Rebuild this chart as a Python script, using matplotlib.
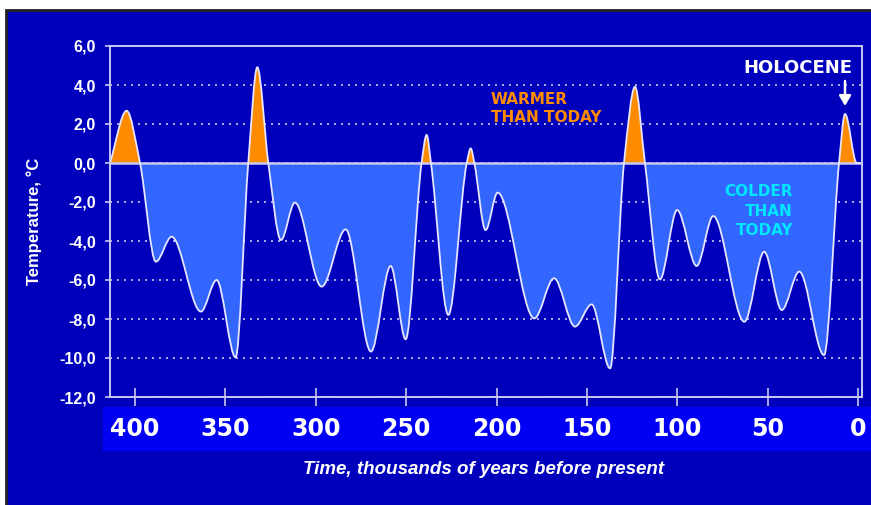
import numpy as np
import matplotlib
matplotlib.use("Agg")
import matplotlib.pyplot as plt
from matplotlib.path import Path
from matplotlib.patches import PathPatch, Rectangle

plt.rcParams['font.family'] = ['Liberation Sans', 'DejaVu Sans']

# ---- data ----
age_kyr = [413.9, 404.7, 397.3, 388.5, 379.8, 363.6, 354.9, 344.4, 337.4, 332.4,
           326.3, 319.3, 311.6, 296.8, 283.5, 269.5, 258.6, 250.3, 241.5, 238.7,
           236.3, 226.7, 216.5, 214.3, 212.3, 206.1, 199.4, 179.1, 168.2, 156.6,
           147.4, 137.2, 129.5, 123.4, 117.9, 109.6, 100.1, 89.3, 80.1, 62.9,
           51.9, 42.2, 32.5, 18.8, 10.5, 7.2, 0.7, -1.1]
temp_c = [0.0, 2.68, 0.0, -5.06, -3.78, -7.62, -6.0, -9.97, 0.0, 4.91,
          0.0, -3.95, -2.03, -6.34, -3.4, -9.67, -5.28, -9.04, 0.0, 1.44,
          0.0, -7.79, 0.0, 0.75, 0.0, -3.44, -1.52, -7.97, -5.91, -8.39,
          -7.25, -10.53, 0.0, 3.91, 0.0, -5.97, -2.41, -5.28, -2.72, -8.14,
          -4.55, -7.54, -5.57, -9.85, 0.0, 2.51, 0.0, 0.0]
xtick_values = [400, 350, 300, 250, 200, 150, 100, 50, 0]
xtick_labels = ['400', '350', '300', '250', '200', '150', '100', '50', '0']
ytick_values = [6, 4, 2, 0, -2, -4, -6, -8, -10, -12]
ytick_labels = ['6,0', '4,0', '2,0', '0,0', '-2,0', '-4,0', '-6,0', '-8,0', '-10,0', '-12,0']

# ---- colours ----
NAVY = '#0000BC'
BAND = '#0000F5'
FILL_BLUE = '#3366FF'
ORANGE = '#FF8C00'
FRAME = '#C8C8F0'
CURVE = '#E6E6FF'
CYAN = '#00E6FF'

W, H = 871, 505
fig = plt.figure(figsize=(W / 100, H / 100), dpi=100, facecolor='white')

def fx(px):
    return px / W

def fy(py):
    return (H - py) / H

# slide background with dark border
fig.patches.append(Rectangle((fx(6), fy(H + 20)), 1.2, fy(9.5) - fy(H + 20),
                             transform=fig.transFigure, facecolor=NAVY,
                             edgecolor='#222222', lw=2, zorder=-10))
# bright band behind x tick labels
fig.patches.append(Rectangle((fx(103), fy(451)), 1.0, fy(407) - fy(451),
                             transform=fig.transFigure, facecolor=BAND,
                             edgecolor='none', zorder=-9))

ax = fig.add_axes([fx(110), fy(397), fx(862) - fx(110), fy(46) - fy(397)])
ax.set_facecolor('none')
ax.set_xlim(413.9, -2.2)
ax.set_ylim(-12, 6)

# ---- smooth curve through read points (monotone cubic Hermite -> Bezier) ----
x = np.asarray(age_kyr, float)
y = np.asarray(temp_c, float)
h = np.diff(x)
d = np.diff(y) / h
m = np.zeros_like(y)
for k in range(1, len(x) - 1):
    if d[k - 1] * d[k] <= 0:
        m[k] = 0.0
    else:
        w1 = 2 * h[k] + h[k - 1]
        w2 = h[k] + 2 * h[k - 1]
        m[k] = (w1 + w2) / (w1 / d[k - 1] + w2 / d[k])
m[0] = d[0]
m[-1] = d[-1]

verts = [(x[0], y[0])]
codes = [Path.MOVETO]
for k in range(len(x) - 1):
    hk = x[k + 1] - x[k]
    verts += [(x[k] + hk / 3, y[k] + m[k] * hk / 3),
              (x[k + 1] - hk / 3, y[k + 1] - m[k + 1] * hk / 3),
              (x[k + 1], y[k + 1])]
    codes += [Path.CURVE4] * 3

curve_path = Path(verts, codes)
fill_path = Path(verts + [(x[-1], 0), (x[0], 0), (x[0], y[0])],
                 codes + [Path.LINETO, Path.LINETO, Path.CLOSEPOLY])

warm = PathPatch(fill_path, facecolor=ORANGE, edgecolor='none', zorder=1)
cold = PathPatch(fill_path, facecolor=FILL_BLUE, edgecolor='none', zorder=1)
ax.add_patch(warm)
ax.add_patch(cold)
warm.set_clip_path(Rectangle((-20, 0), 460, 20, transform=ax.transData))
cold.set_clip_path(Rectangle((-20, -20), 460, 20, transform=ax.transData))

ax.axhline(0, color=FRAME, lw=1.8, zorder=2)
ax.add_patch(PathPatch(curve_path, facecolor='none', edgecolor=CURVE, lw=1.3, zorder=2.5))

# ---- grid / spines / ticks ----
ax.set_axisbelow(True)
ax.grid(axis='y', color='#C8C8F0', linestyle=(0, (1.2, 3.0)), lw=1.2)
ax.grid(axis='x', visible=False)
for s in ax.spines.values():
    s.set_color(FRAME)
    s.set_linewidth(1.4)

ax.set_yticks(ytick_values)
ax.set_yticklabels(ytick_labels, fontweight='bold', fontsize=11.5, color='white')
ax.tick_params(axis='y', direction='out', length=3.6, width=1.2, color=FRAME, pad=6.5)

ax.set_xticks(xtick_values)
ax.set_xticklabels(xtick_labels, fontweight='bold', fontsize=17, color='white',
                   family=['DejaVu Sans'])
ax.tick_params(axis='x', direction='inout', length=13, width=1.2, color=FRAME, pad=8)

ax.set_ylabel('Temperature, °C', color='white', fontweight='bold', fontsize=12)
ax.yaxis.set_label_coords((42 - 110) / 752, 0.5)
ax.set_xlabel('Time, thousands of years before present', color='white',
              fontweight='bold', fontstyle='italic', fontsize=13.5)
ax.xaxis.set_label_coords((484 - 110) / 752, (397 - 469) / 351)
ax.xaxis.label.set_va('center')

# ---- annotations ----
def age_of(px):
    return (858 - px) / 1.807

def temp_of(py):
    return (163 - py) / 19.5

ax.text(age_of(491), temp_of(108.5), 'WARMER\nTHAN TODAY', color=ORANGE,
        fontweight='bold', fontsize=11, family=['DejaVu Sans'],
        ha='left', va='center', linespacing=1.3, zorder=4)
ax.text(age_of(793), temp_of(211), 'COLDER\nTHAN\nTODAY', color=CYAN,
        fontweight='bold', fontsize=11, family=['DejaVu Sans'],
        ha='right', va='center', multialignment='right', linespacing=1.38, zorder=4)
ax.text(age_of(798), temp_of(68), 'HOLOCENE', color='white',
        fontweight='bold', fontsize=13, family=['DejaVu Sans'],
        ha='center', va='center', zorder=4)
ax.annotate('', xy=(age_of(845), temp_of(106)), xytext=(age_of(845), temp_of(81)),
            arrowprops=dict(arrowstyle='-|>,head_length=0.6,head_width=0.35',
                            color='white', lw=1.8, shrinkA=0, shrinkB=0), zorder=4)

fig.savefig('out.png', dpi=100, facecolor=fig.get_facecolor())
